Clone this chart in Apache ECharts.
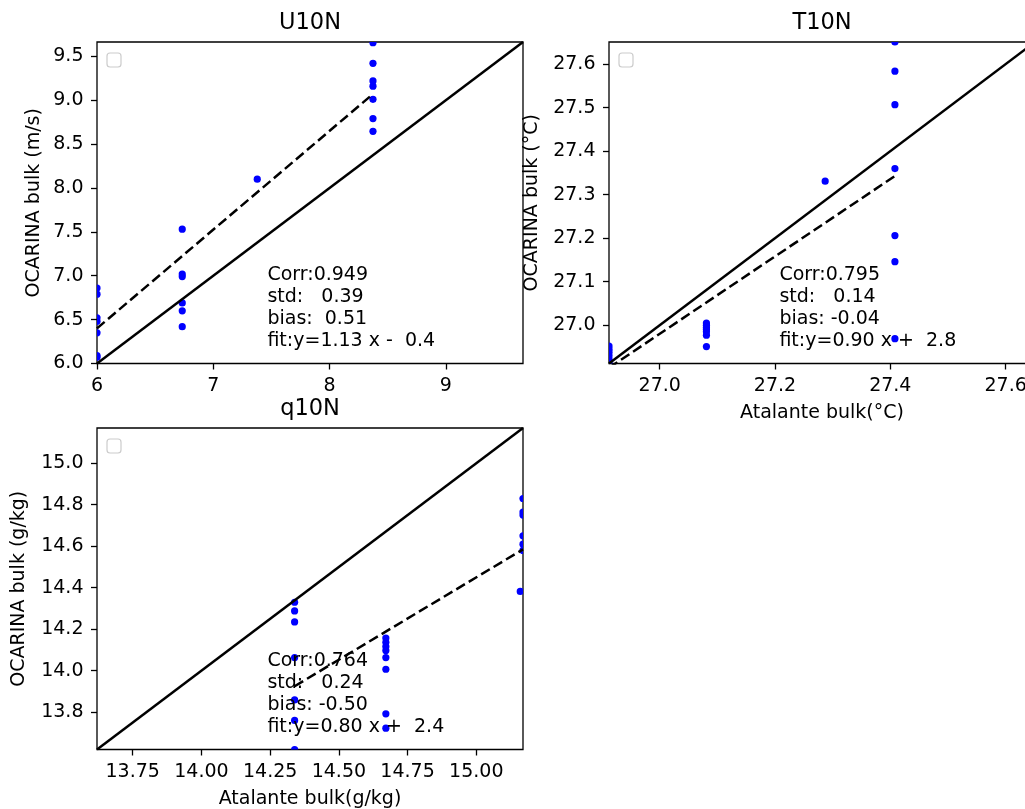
<!DOCTYPE html>
<html>
<head>
<meta charset="utf-8">
<title>OCARINA vs Atalante bulk</title>
<script src="https://cdn.jsdelivr.net/npm/echarts@6/dist/echarts.min.js"></script>
<style>
  html, body { margin: 0; padding: 0; background: #fff; }
  #chart { width: 1025px; height: 809px; }
</style>
</head>
<body>
<div id="chart"></div>
<script>
// ---- U10N (m/s) ----
const u10Atalante = [6.0, 6.0, 6.0, 6.0, 6.0, 6.0, 6.0,
  6.733, 6.733, 6.733, 6.733, 6.733, 6.733,
  7.378,
  8.373, 8.373, 8.373, 8.373, 8.373, 8.373, 8.373];
const u10Ocarina = [6.86, 6.79, 6.52, 6.48, 6.35, 6.09, 6.07,
  7.53, 7.02, 6.99, 6.69, 6.60, 6.42,
  8.10,
  9.655, 9.42, 9.22, 9.16, 9.01, 8.79, 8.645];
const u10FitX = [6.0, 8.373];
const u10FitY = [6.40, 9.07];
const u10Range = [6.0, 9.663];
const u10TicksX = [6, 7, 8, 9];
const u10TicksY = [6.0, 6.5, 7.0, 7.5, 8.0, 8.5, 9.0, 9.5];
const u10Stats = ['Corr:0.949', 'std:   0.39', 'bias:  0.51', 'fit:y=1.13 x -  0.4'];

// ---- T10N (°C) ----
const t10Atalante = [26.912, 26.912, 26.912, 26.912, 26.912, 26.912,
  27.081, 27.081, 27.081, 27.081, 27.081, 27.081, 27.081,
  27.287,
  27.408, 27.408, 27.408, 27.408, 27.408, 27.408, 27.408];
const t10Ocarina = [26.952, 26.945, 26.938, 26.930, 26.922, 26.915,
  27.005, 27.000, 26.995, 26.990, 26.985, 26.977, 26.951,
  27.331,
  27.651, 27.584, 27.507, 27.360, 27.206, 27.146, 26.969];
const t10FitX = [26.912, 27.408];
const t10FitY = [26.902, 27.343];
const t10Range = [26.912, 27.651];
const t10TicksX = [27.0, 27.2, 27.4, 27.6];
const t10TicksY = [27.0, 27.1, 27.2, 27.3, 27.4, 27.5, 27.6];
const t10Stats = ['Corr:0.795', 'std:   0.14', 'bias: -0.04', 'fit:y=0.90 x +  2.8'];

// ---- q10N (g/kg) ----
const q10Atalante = [14.339, 14.339, 14.339, 14.339, 14.339, 14.339, 14.339,
  14.671, 14.671, 14.671, 14.671, 14.671, 14.671, 14.671, 14.671,
  15.17, 15.17, 15.17, 15.17, 15.17, 15.17, 15.16];
const q10Ocarina = [14.330, 14.288, 14.235, 14.063, 13.859, 13.760, 13.62,
  14.157, 14.137, 14.116, 14.097, 14.063, 14.007, 13.792, 13.723,
  14.830, 14.765, 14.750, 14.650, 14.610, 14.580, 14.382];
const q10FitX = [14.339, 15.17];
const q10FitY = [13.925, 14.585];
const q10Range = [13.62, 15.17];
const q10TicksX = [13.75, 14.00, 14.25, 14.50, 14.75, 15.00];
const q10TicksY = [13.8, 14.0, 14.2, 14.4, 14.6, 14.8, 15.0];
const q10Stats = ['Corr:0.764', 'std:   0.24', 'bias: -0.50', 'fit:y=0.80 x +  2.4'];

const panelTitles = ['U10N', 'T10N', 'q10N'];
const yNames = ['OCARINA bulk (m/s)', 'OCARINA bulk (°C)', 'OCARINA bulk (g/kg)'];
const xNames = ['', 'Atalante bulk(°C)', 'Atalante bulk(g/kg)'];

// ---- layout ----
const FONT = '"DejaVu Sans", sans-serif';
const FS = 19;
const grids = [
  { left: 97, top: 42, width: 426, height: 321.5 },
  { left: 609, top: 42, width: 426, height: 321.5 },
  { left: 97, top: 428, width: 426, height: 321.5 }
];
const yNameX = [34, 532, 19];

const panels = [
  { x: u10Atalante, y: u10Ocarina, fx: u10FitX, fy: u10FitY, range: u10Range,
    tx: u10TicksX, ty: u10TicksY, dx: 0, dy: 1, stats: u10Stats },
  { x: t10Atalante, y: t10Ocarina, fx: t10FitX, fy: t10FitY, range: t10Range,
    tx: t10TicksX, ty: t10TicksY, dx: 1, dy: 1, stats: t10Stats },
  { x: q10Atalante, y: q10Ocarina, fx: q10FitX, fy: q10FitY, range: q10Range,
    tx: q10TicksX, ty: q10TicksY, dx: 2, dy: 1, stats: q10Stats }
];

function zip(a, b) { return a.map((v, i) => [v, b[i]]); }

function axis(i, range, ticks, decimals, margin) {
  return {
    type: 'value', gridIndex: i, min: range[0], max: range[1], scale: true,
    axisLine: { show: false },
    splitLine: { show: false },
    axisTick: { show: true, inside: false, length: 6,
      lineStyle: { color: '#000', width: 1.3 }, customValues: ticks },
    axisLabel: { show: true, customValues: ticks, margin: margin,
      formatter: v => Number(v).toFixed(decimals),
      color: '#000', fontSize: FS, fontFamily: FONT }
  };
}

function txt(x, y, s, size, align, extra) {
  return Object.assign({ type: 'text', z: 100, x: x, y: y,
    style: { text: s, font: size + 'px ' + FONT, fill: '#000',
      align: align, verticalAlign: 'middle', textAlign: align, textVerticalAlign: 'middle' } }, extra || {});
}

const xAxes = [], yAxes = [], series = [], graphics = [];

panels.forEach((p, i) => {
  const g = grids[i];
  xAxes.push(axis(i, p.range, p.tx, p.dx, 13));
  yAxes.push(axis(i, p.range, p.ty, p.dy, 13.5));

  // measurements
  series.push({
    type: 'custom', xAxisIndex: i, yAxisIndex: i, clip: true, z: 2,
    data: zip(p.x, p.y),
    renderItem: function (params, api) {
      const c = api.coord([api.value(0), api.value(1)]);
      return { type: 'circle', shape: { cx: c[0], cy: c[1], r: 3.6 },
        style: { fill: '#0000ff' } };
    }
  });
  // 1:1 line
  series.push({
    type: 'line', xAxisIndex: i, yAxisIndex: i, clip: true, z: 3,
    symbol: 'none', silent: true,
    data: [[p.range[0], p.range[0]], [p.range[1], p.range[1]]],
    lineStyle: { color: '#000', width: 2.5 }
  });
  // linear fit
  series.push({
    type: 'line', xAxisIndex: i, yAxisIndex: i, clip: true, z: 3,
    symbol: 'none', silent: true,
    data: zip(p.fx, p.fy),
    lineStyle: { color: '#000', width: 2.5, type: [10, 4.5] }
  });

  const cx = g.left + g.width / 2;
  const bottom = g.top + g.height;

  graphics.push(txt(cx, g.top - 19.3, panelTitles[i], 22.5, 'center'));
  graphics.push(txt(yNameX[i], g.top + g.height / 2, yNames[i], FS, 'center', { rotation: Math.PI / 2 }));
  if (xNames[i]) {
    graphics.push(txt(cx, bottom + 49.5, xNames[i], FS, 'center'));
  }

  // statistics block, anchored at 40% / 5% of the axes box
  const tx = g.left + 0.4 * g.width;
  const lastBase = bottom - 0.05 * g.height;
  p.stats.forEach((s, k) => {
    const base = lastBase - (p.stats.length - 1 - k) * 22;
    graphics.push(txt(tx, base - 6.5, s, FS, 'left'));
  });

  // empty legend frame
  graphics.push({ type: 'rect', z: 100,
    shape: { x: g.left + 10, y: g.top + 11, width: 14, height: 14, r: 3 },
    style: { fill: 'rgba(255,255,255,0.8)', stroke: '#cccccc', lineWidth: 1.2 } });
});

const chart = echarts.init(document.getElementById('chart'), null, { renderer: 'canvas' });
chart.setOption({
  animation: false,
  backgroundColor: '#ffffff',
  textStyle: { fontFamily: FONT },
  grid: grids.map(g => Object.assign({
    show: true, borderColor: '#000', borderWidth: 1.3, backgroundColor: 'transparent',
    containLabel: false, outerBoundsMode: 'none'
  }, g)),
  xAxis: xAxes,
  yAxis: yAxes,
  series: series,
  graphic: { elements: graphics }
});
</script>
</body>
</html>
